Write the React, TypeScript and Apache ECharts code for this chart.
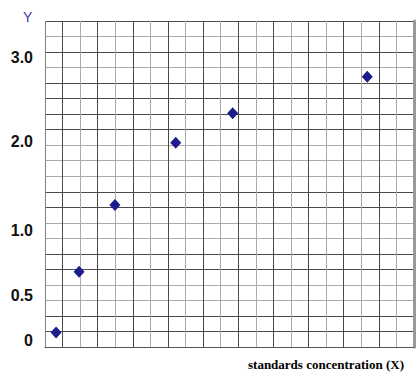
import React, { useEffect, useRef } from "react";
import * as echarts from "echarts";

// Readings in graph-paper squares (x: columns from left edge, y: rows from bottom edge)
const pointX = [0.63, 1.94, 3.98, 7.44, 10.68, 18.34];
const pointY = [0.93, 4.84, 9.14, 13.15, 15.05, 17.41];

// Y tick labels and where they sit on the paper (rows from bottom)
const yTickLabels = ["0", "0.5", "1.0", "2.0", "3.0"];
const yTickRows = [0.43, 3.33, 7.52, 13.22, 18.66];

const columns = 21;
const rows = 21;

const DARK = "#4a4a4a";
const LIGHT = "#ababab";
const vColors = Array.from({ length: columns + 1 }, (_, k) =>
  k === 0 ? "#808080" : k % 2 === 1 ? DARK : LIGHT
);
const hPattern = "DDDLLDDLLDDLLLDDDDLDLD";
const hColors = hPattern.split("").map((c) => (c === "D" ? DARK : LIGHT));

export default function App() {
  const ref = useRef<HTMLDivElement>(null);
  useEffect(() => {
    if (!ref.current) return;
    const chart = echarts.init(ref.current, null, { renderer: "svg" });
    chart.setOption({
      animation: false,
      backgroundColor: "#ffffff",
      title: {
        text: "Y",
        left: 18,
        top: 5,
        textStyle: {
          color: "#3a3aa8",
          fontSize: 14,
          fontWeight: "normal",
          fontFamily: "Liberation Sans, Arial, sans-serif",
        },
      },
      grid: { left: 45, right: 5, top: 21, bottom: 30, containLabel: false },
      xAxis: {
        type: "value",
        min: 0,
        max: columns,
        interval: 1,
        name: "standards concentration (X)",
        nameLocation: "end",
        nameGap: -10,
        nameTextStyle: {
          align: "right",
          verticalAlign: "top",
          padding: [11, 0, 0, 0],
          color: "#000",
          fontSize: 13,
          fontWeight: "bold",
          fontFamily: "Liberation Serif, Times New Roman, serif",
        },
        axisLine: { show: true, lineStyle: { color: "#555", width: 1 } },
        axisTick: { show: false },
        axisLabel: { show: false },
        splitLine: { show: true, lineStyle: { color: vColors, width: 1 } },
      },
      yAxis: [
        {
          type: "value",
          min: 0,
          max: rows,
          interval: 1,
          axisLine: { show: false },
          axisTick: { show: false },
          axisLabel: {
            show: true,
            customValues: yTickRows,
            formatter: (v: number) => {
              const i = yTickRows.findIndex((r) => Math.abs(r - v) < 1e-6);
              return i >= 0 ? yTickLabels[i] : "";
            },
            margin: 12,
            color: "#111",
            fontSize: 16,
            fontWeight: "bold",
            fontFamily: "Liberation Sans, Arial, sans-serif",
          },
          splitLine: { show: true, lineStyle: { color: hColors, width: 1 } },
        },
        {
          type: "value",
          position: "right",
          min: 0,
          max: rows,
          interval: 1,
          axisLine: { show: true, lineStyle: { color: "#9a9a9a", width: 3 } },
          axisTick: { show: false },
          axisLabel: { show: false },
          splitLine: { show: false },
        },
      ],
      series: [
        {
          type: "scatter",
          data: pointX.map((x, i) => [x, pointY[i]]),
          symbol: "diamond",
          symbolSize: [11, 12],
          itemStyle: { color: "#1c1c8c", opacity: 1 },
        },
      ],
    });
    return () => chart.dispose();
  }, []);
  return (
    <div
      ref={ref}
      style={{ position: "fixed", left: 0, top: 0, width: 419, height: 377 }}
    />
  );
}
